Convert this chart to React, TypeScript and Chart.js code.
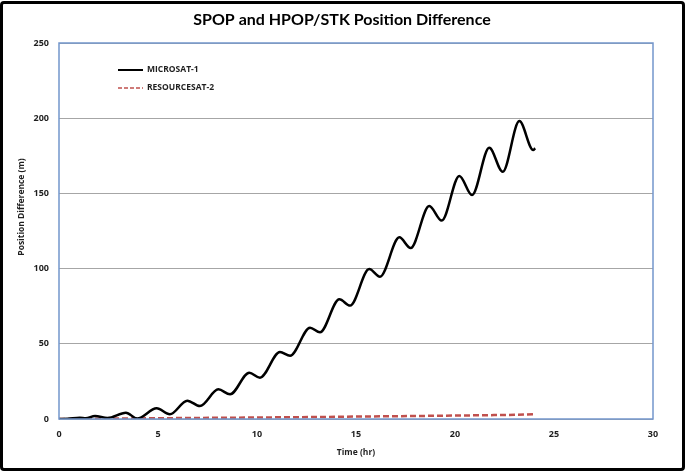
import React, { useEffect, useRef } from "react";
import { Chart, registerables } from "chart.js";

Chart.register(...registerables);

const chartTitle = "SPOP and HPOP/STK Position Difference";
const xAxisTitle = "Time (hr)";
const yAxisTitle = "Position Difference (m)";
const seriesNames = ["MICROSAT-1", "RESOURCESAT-2"];

const microTimes = [0, 0.45, 1.05, 1.35, 1.82, 2.45, 3.38, 3.95, 4.93, 5.6, 6.48, 7.12, 8.05, 8.64, 9.61, 10.15, 11.16, 11.67, 12.68, 13.18, 14.16, 14.7, 15.67, 16.21, 17.19, 17.76, 18.7, 19.33, 20.22, 20.86, 21.73, 22.41, 23.25, 23.95, 24.05];
const microValues = [0, 0.2, 0.9, 0.5, 2.0, 0.7, 4.2, 0.3, 7.1, 3.1, 12.2, 8.6, 19.7, 16.4, 30.8, 27.5, 44.5, 42.0, 60.7, 57.6, 79.6, 75.4, 99.7, 94.6, 120.8, 113.7, 141.6, 131.9, 161.6, 148.9, 180.4, 164.4, 198.1, 178.8, 180.0];

const resTimes = [0, 3, 6, 9, 12, 15, 18, 20, 22, 23, 24];
const resValues = [0, 0.3, 0.6, 0.9, 1.2, 1.6, 2.0, 2.3, 2.6, 2.8, 3.2];

const xTicks = [0, 5, 10, 15, 20, 25, 30];
const yTicks = [0, 50, 100, 150, 200, 250];

const TITLE_FONT = "Lato, 'Open Sans', sans-serif";
const FONT = "'Open Sans', Lato, sans-serif";
const TEXT_COLOR = "#1F1F1F";

export default function App() {
  const ref = useRef<HTMLCanvasElement | null>(null);

  useEffect(() => {
    if (!ref.current) return;
    const decor = {
      id: "decor",
      afterDraw(chart: any) {
        const ctx = chart.ctx;
        const a = chart.chartArea;
        ctx.save();
        ctx.strokeStyle = "#7396CC";
        ctx.lineWidth = 1.5;
        ctx.strokeRect(a.left, a.top, a.right - a.left, a.bottom - a.top);
        ctx.fillStyle = "#000";
        ctx.textAlign = "center";
        ctx.textBaseline = "middle";
        ctx.font = `bold 16px ${TITLE_FONT}`;
        ctx.fillText(chartTitle, 342, 20);
        ctx.font = `bold 8.5px ${FONT}`;
        ctx.fillStyle = TEXT_COLOR;
        ctx.fillText(xAxisTitle, (a.left + a.right) / 2, 453);
        ctx.save();
        ctx.translate(22, 207);
        ctx.rotate(-Math.PI / 2);
        ctx.fillText(yAxisTitle, 0, 0);
        ctx.restore();
        const items = [
          { y: 70, color: "#000", dash: [] as number[], width: 2 },
          { y: 88, color: "#C0504D", dash: [4, 2], width: 1.5 },
        ];
        items.forEach((it, i) => {
          ctx.beginPath();
          ctx.setLineDash(it.dash);
          ctx.strokeStyle = it.color;
          ctx.lineWidth = it.width;
          ctx.moveTo(118, it.y);
          ctx.lineTo(143, it.y);
          ctx.stroke();
          ctx.setLineDash([]);
          ctx.fillStyle = TEXT_COLOR;
          ctx.textAlign = "left";
          ctx.font = `bold 8.5px ${FONT}`;
          ctx.fillText(seriesNames[i], 147, it.y);
        });
        ctx.restore();
      },
    };

    const chart = new Chart(ref.current, {
      type: "line",
      data: {
        datasets: [
          {
            label: seriesNames[0],
            data: microTimes.map((t, i) => ({ x: t, y: microValues[i] })),
            borderColor: "#000",
            borderWidth: 2.5,
            pointRadius: 0,
            cubicInterpolationMode: "monotone",
            fill: false,
          },
          {
            label: seriesNames[1],
            data: resTimes.map((t, i) => ({ x: t, y: resValues[i] })),
            borderColor: "#C0504D",
            borderWidth: 2.5,
            borderDash: [6, 3],
            pointRadius: 0,
            cubicInterpolationMode: "monotone",
            fill: false,
          },
        ],
      },
      options: {
        animation: false,
        responsive: false,
        devicePixelRatio: 1,
        layout: { padding: { top: 43, right: 32, left: 0, bottom: 0 } },
        plugins: { legend: { display: false }, title: { display: false }, tooltip: { enabled: false } },
        scales: {
          x: {
            type: "linear",
            min: 0,
            max: 30,
            afterFit: (s: any) => { s.height = 53; },
            afterBuildTicks: (s: any) => { s.ticks = xTicks.map((v) => ({ value: v })); },
            grid: { display: false, drawTicks: false },
            border: { display: false },
            ticks: { padding: 10, color: TEXT_COLOR, font: { family: FONT, size: 9, weight: "bold" }, maxRotation: 0 },
          },
          y: {
            type: "linear",
            min: 0,
            max: 250,
            afterFit: (s: any) => { s.width = 59; },
            afterBuildTicks: (s: any) => { s.ticks = yTicks.map((v) => ({ value: v })); },
            grid: { color: "#A6A6A6", lineWidth: 1, drawTicks: false },
            border: { display: false },
            ticks: { padding: 10, color: TEXT_COLOR, font: { family: FONT, size: 9, weight: "bold" } },
          },
        },
      },
      plugins: [decor],
    } as any);
    return () => chart.destroy();
  }, []);

  return (
    <div style={{ position: "fixed", left: 0, top: 0, width: 685, height: 472, background: "#fff" }}>
      <canvas ref={ref} width={685} height={472} style={{ display: "block" }} />
      <div
        style={{
          position: "absolute",
          left: 0,
          top: 1,
          width: 685,
          height: 470,
          boxSizing: "border-box",
          border: "3px solid #000",
          borderRadius: 4,
          pointerEvents: "none",
        }}
      />
    </div>
  );
}
